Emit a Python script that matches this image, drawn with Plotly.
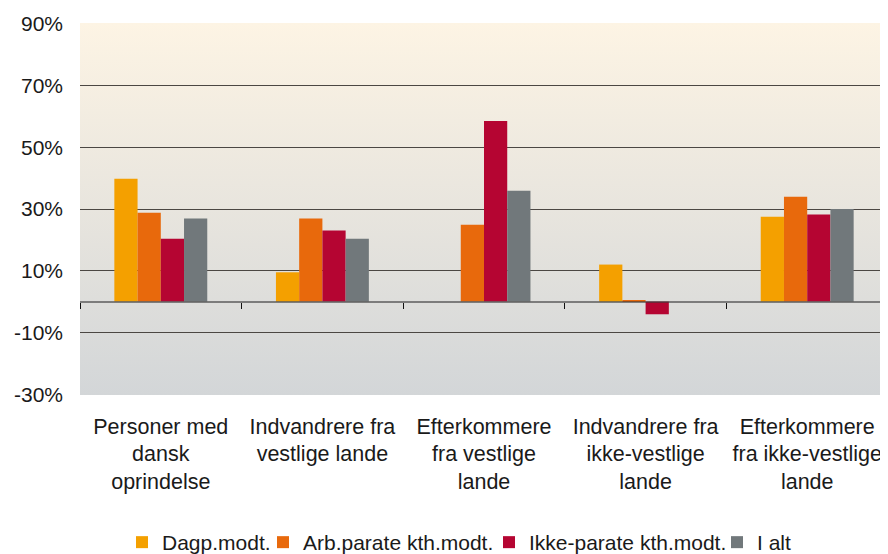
import base64
import plotly.graph_objects as go

# Data
categories = [
    "Personer med<br>dansk<br>oprindelse",
    "Indvandrere fra<br>vestlige lande",
    "Efterkommere<br>fra vestlige<br>lande",
    "Indvandrere fra<br>ikke-vestlige<br>lande",
    "Efterkommere<br>fra ikke-vestlige<br>lande",
]
dagp = [39.8, 9.5, None, 12.0, 27.5]
arb_parate = [28.8, 26.9, 24.9, 0.4, 34.0]
ikke_parate = [20.4, 23.0, 58.5, -4.1, 28.2]
i_alt = [26.9, 20.4, 35.9, None, 30.0]

series_names = ["Dagp.modt.", "Arb.parate kth.modt.", "Ikke-parate kth.modt.", "I alt"]
series_values = [dagp, arb_parate, ikke_parate, i_alt]
colours = ["#F4A000", "#E8690C", "#B50532", "#71787B"]

y_ticks = [-30, -10, 10, 30, 50, 70, 90]

FONT = "Liberation Sans, Arial, sans-serif"

# the page body has the browser's default 8px margin, so work in screen
# pixels and shift everything by that offset
OFF = 8
W, H = 888 - OFF, 554 - OFF
plot_left, plot_top, plot_bottom = 80, 23, 395      # screen px
ML, MT = plot_left - OFF, plot_top - OFF
MB = H - (plot_bottom - OFF)
plot_w = W - ML
plot_h = H - MT - MB

# vertical gradient for the plot background (cream at top -> grey at bottom)
svg = (
    '<svg xmlns="http://www.w3.org/2000/svg" width="10" height="100" '
    'viewBox="0 0 10 100" preserveAspectRatio="none">'
    '<defs><linearGradient id="g" x1="0" y1="0" x2="0" y2="1">'
    '<stop offset="0" stop-color="#FDF4E4"/>'
    '<stop offset="1" stop-color="#D3D6D8"/>'
    '</linearGradient></defs>'
    '<rect width="10" height="100" fill="url(#g)"/></svg>'
)
bg_src = "data:image/svg+xml;base64," + base64.b64encode(svg.encode()).decode()

fig = go.Figure()

# one legend per series so the items can sit as tightly as in the original
legend_px = [122, 263, 489, 717]     # screen px of each legend box
legend_top = 522
legends = {}
for i, (name, vals, c) in enumerate(zip(series_names, series_values, colours)):
    lg = "legend" if i == 0 else f"legend{i + 1}"
    fig.add_trace(go.Bar(x=categories, y=vals, name=name, marker_color=c,
                         marker_line_width=0, legend=lg))
    legends[lg] = dict(orientation="h",
                       x=(legend_px[i] - plot_left) / plot_w, xanchor="left",
                       y=-(legend_top - plot_bottom) / plot_h, yanchor="top",
                       font=dict(size=21), itemwidth=30,
                       bgcolor="rgba(0,0,0,0)")

# empty trace so the overlay axis (zero line + boundary ticks) gets drawn
fig.add_trace(go.Scatter(x=[], y=[], xaxis="x2", showlegend=False,
                         hoverinfo="skip"))

fig.update_layout(
    width=W, height=H,
    margin=dict(l=ML, r=0, t=MT, b=MB, autoexpand=False),
    paper_bgcolor="white",
    plot_bgcolor="rgba(0,0,0,0)",
    font=dict(family=FONT, size=21, color="#1a1a1a"),
    showlegend=True,
    barmode="group",
    bargap=0.425,
    bargroupgap=0,
    images=[dict(source=bg_src, xref="paper", yref="paper", x=0, y=1,
                 sizex=1, sizey=1, sizing="stretch", layer="below",
                 xanchor="left", yanchor="top")],
    xaxis=dict(showgrid=False, zeroline=False, showline=False, ticks="",
               automargin=False, ticklabelstandoff=16,
               tickfont=dict(size=21.5)),
    xaxis2=dict(overlaying="x", anchor="free", position=0.25,
                range=[-0.5, 4.5],
                tickvals=[-0.5, 0.5, 1.5, 2.5, 3.5, 4.5],
                ticks="outside", ticklen=6, tickwidth=1, tickcolor="#111",
                showticklabels=False, showgrid=False, zeroline=False,
                showline=True, linecolor="rgba(60,60,60,0.6)", linewidth=2),
    yaxis=dict(range=[-30.25, 90.25], tickvals=y_ticks,
               ticktext=[f"{v}%" for v in y_ticks],
               showgrid=True, gridcolor="#4B4743", gridwidth=1,
               zeroline=False, showline=False, ticks="", automargin=False,
               ticklabelstandoff=16, tickfont=dict(size=21)),
    **legends,
)

fig.write_html("out.html")
